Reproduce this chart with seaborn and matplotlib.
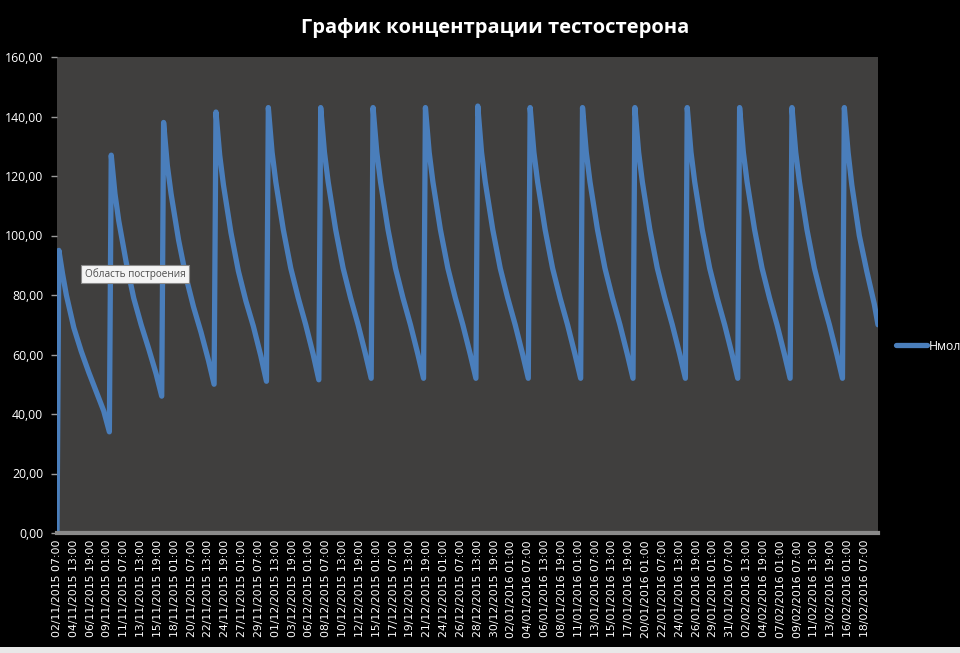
import matplotlib
matplotlib.use("Agg")
import matplotlib.pyplot as plt
import seaborn as sns
import pandas as pd
from matplotlib.patches import Rectangle

# ---- data (hours since 02/11/2015 07:00, concentration in nmol/L) ----
hours = [
    0, 6, 18, 30, 54, 78, 102, 126, 150,
    168, 174, 186, 198, 222, 246, 270, 294, 318,
    336, 342, 354, 366, 390, 414, 438, 462, 486,
    504, 510, 522, 534, 558, 582, 606, 630, 654,
    672, 678, 690, 702, 726, 750, 774, 798, 822,
    840, 846, 858, 870, 894, 918, 942, 966, 990,
    1008, 1014, 1026, 1038, 1062, 1086, 1110, 1134, 1158,
    1176, 1182, 1194, 1206, 1230, 1254, 1278, 1302, 1326,
    1344, 1350, 1362, 1374, 1398, 1422, 1446, 1470, 1494,
    1512, 1518, 1530, 1542, 1566, 1590, 1614, 1638, 1662,
    1680, 1686, 1698, 1710, 1734, 1758, 1782, 1806, 1830,
    1848, 1854, 1866, 1878, 1902, 1926, 1950, 1974, 1998,
    2016, 2022, 2034, 2046, 2070, 2094, 2118, 2142, 2166,
    2184, 2190, 2202, 2214, 2238, 2262, 2286, 2310, 2334,
    2352, 2358, 2370, 2382, 2406, 2430, 2454, 2478, 2502,
    2520, 2526, 2538, 2550, 2574, 2598, 2622, 2634,
]
nmol = [
    0, 95, 87, 80, 69, 61, 54, 47.5, 41,
    34, 127, 114, 105, 91, 79, 70, 62, 53.5,
    46, 138, 123.5, 114, 98.5, 86, 76, 67.5, 58,
    50, 141.5, 127, 117, 101, 88, 78, 69.5, 59.5,
    51, 143, 128, 118, 102, 89, 79, 70, 60,
    51.5, 143, 128, 118, 102, 89, 79, 70, 60,
    52, 143, 128, 118, 102, 89, 79, 70, 60,
    52, 143, 128, 118, 102, 89, 79, 70, 60,
    52, 143.5, 128, 118, 102, 89, 79, 70, 60,
    52, 143, 128, 118, 102, 89, 79, 70, 60,
    52, 143, 128, 118, 102, 89, 79, 70, 60,
    52, 143, 128, 118, 102, 89, 79, 70, 60,
    52, 143, 128, 118, 102, 89, 79, 70, 60,
    52, 143, 128, 118, 102, 89, 79, 70, 60,
    52, 143, 128, 118, 102, 89, 79, 70, 60,
    52, 143, 128, 117, 100, 88, 77, 70,
]
series_name = "Нмол"
title = "График концентрации тестостерона"
start_time = "2015-11-02 07:00"
tick_step_hours = 54
tick_hours = list(range(0, 2593, tick_step_hours))
tick_labels = list(pd.date_range(start_time, periods=len(tick_hours),
                                 freq=f"{tick_step_hours}h").strftime("%d/%m/%Y %H:%M"))
y_ticks = [0, 20, 40, 60, 80, 100, 120, 140, 160]
y_tick_labels = [f"{v:.2f}".replace(".", ",") for v in y_ticks]

df = pd.DataFrame({"hours": hours, "nmol": nmol})

# ---- figure ----
W, H = 960, 653
fig = plt.figure(figsize=(W / 100, H / 100), dpi=100, facecolor="black")
ax = fig.add_axes([57 / W, 1 - 533 / H, (878 - 57) / W, (533 - 57) / H])
ax.set_facecolor("#403f3e")

sns.lineplot(data=df, x="hours", y="nmol", ax=ax, color="#4a7ebb",
             linewidth=3.8, label=series_name, solid_joinstyle="round",
             solid_capstyle="round")

ax.set_xlim(0, 2634)
ax.set_ylim(0, 160)
ax.set_xlabel("")
ax.set_ylabel("")

ax.set_yticks(y_ticks)
ax.set_yticklabels(y_tick_labels, fontfamily="Open Sans", fontsize=8.8, color="white")
ax.set_xticks(tick_hours)
ax.set_xticklabels(tick_labels, rotation=90, fontfamily="DejaVu Sans",
                   fontsize=7.8, color="white")
ax.tick_params(axis="y", direction="out", length=4, width=1, color="#9a9a9a", pad=6)
ax.tick_params(axis="x", direction="out", length=0, pad=5)

for side in ["top", "right", "left"]:
    ax.spines[side].set_visible(False)
ax.spines["bottom"].set_color("#8a8a8a")
ax.spines["bottom"].set_linewidth(3)
ax.grid(False)

# legend
leg = ax.legend(loc="center left", bbox_to_anchor=(896 / W, 1 - 346 / H),
                bbox_transform=fig.transFigure, frameon=False, borderpad=0,
                borderaxespad=0, handlelength=2.5, handletextpad=0.2,
                prop={"family": "Open Sans", "size": 8.8})
for t in leg.get_texts():
    t.set_color("white")

# title
fig.text(495 / W, 1 - 28 / H, title, ha="center", va="center", color="white",
         fontfamily="Open Sans", fontweight="bold", fontsize=14.5)

# tooltip shown over plot area
fig.text(135 / W, 1 - 274 / H, "Область построения", ha="center", va="center",
         color="#4d4d4d", fontfamily="Open Sans", fontsize=7.2,
         bbox=dict(boxstyle="square,pad=0.35", facecolor="#f4f4f4",
                   edgecolor="#8a8a8a", linewidth=0.8), zorder=10)

# thin light border at the bottom of the image
fig.patches.append(Rectangle((0, 0), 1, 6 / H, transform=fig.transFigure,
                             facecolor="#e8e8e8", edgecolor="none"))

fig.savefig("out.png", dpi=100, facecolor="black")
